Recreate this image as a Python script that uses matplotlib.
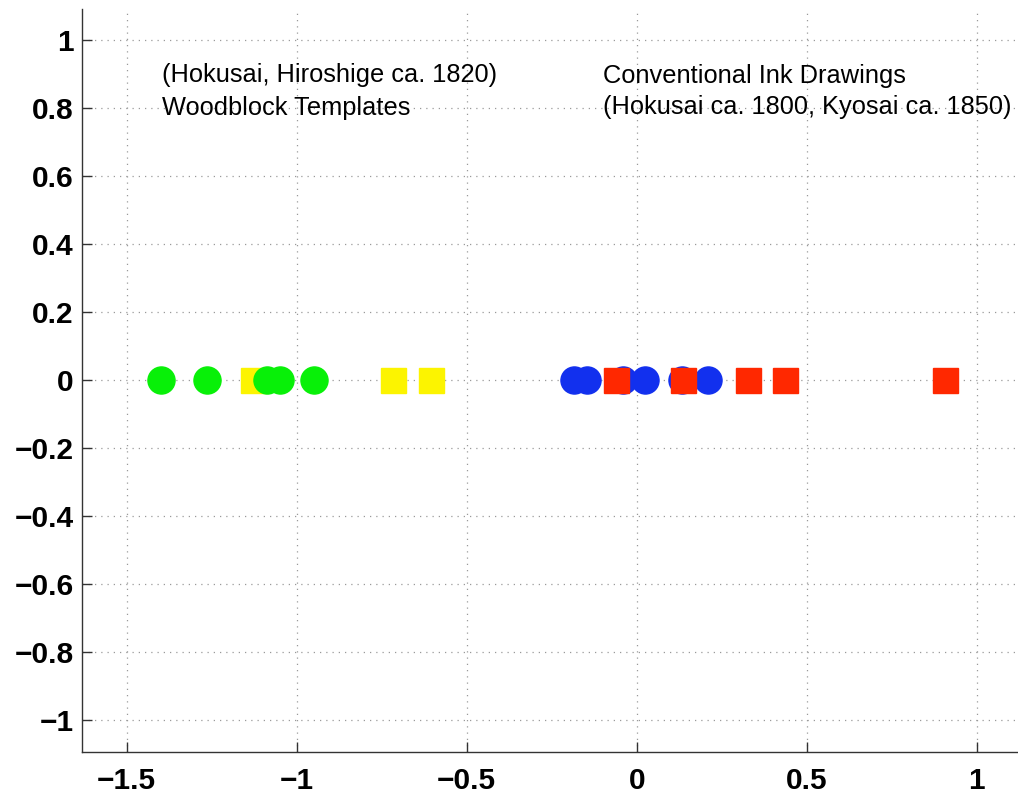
import numpy as np
import matplotlib
matplotlib.use("Agg")
from matplotlib import pyplot as plt

plt.rcParams["font.family"] = ["Liberation Sans", "DejaVu Sans"]

# Woodblock templates (Hokusai, Hiroshige ca. 1820)
woodblock_sq_x = [-1.128, -0.718, -0.605]
woodblock_ci_x = [-1.400, -1.265, -1.088, -1.049, -0.948]
# Conventional ink drawings (Hokusai ca. 1800, Kyosai ca. 1850)
ink_ci_x = [-0.184, -0.145, -0.040, 0.024, 0.132, 0.210]
ink_sq_x = [-0.061, 0.137, 0.326, 0.436, 0.907]

x_ticks = [-1.5, -1.0, -0.5, 0.0, 0.5, 1.0]
x_tick_labels = ["\u22121.5", "\u22121", "\u22120.5", "0", "0.5", "1"]
y_ticks = [-1.0, -0.8, -0.6, -0.4, -0.2, 0.0, 0.2, 0.4, 0.6, 0.8, 1.0]
y_tick_labels = ["\u22121", "\u22120.8", "\u22120.6", "\u22120.4", "\u22120.2",
                 "0", "0.2", "0.4", "0.6", "0.8", "1"]

fig = plt.figure(figsize=(10.18, 7.96), dpi=100)
ax = fig.add_axes([82.3 / 1018, (796 - 752.3) / 796, 935.7 / 1018, 742.9 / 796])

groups = [
    (woodblock_sq_x, "s", "#fcf400", 18),
    (woodblock_ci_x, "o", "#08f008", 19.5),
    (ink_ci_x, "o", "#1230ee", 19.5),
    (ink_sq_x, "s", "#ff2800", 18),
]
for xs, marker, color, size in groups:
    ax.plot(xs, np.zeros(len(xs)), linestyle="none", marker=marker,
            markersize=size, markerfacecolor=color, markeredgecolor=color)

ax.set_xlim(-1.6306, 1.1215)
ax.set_ylim(-1.095, 1.09)
ax.set_xticks(x_ticks)
ax.set_xticklabels(x_tick_labels)
ax.set_yticks(y_ticks)
ax.set_yticklabels(y_tick_labels)

ax.grid(True, color="#9a9a9a", linestyle=(0, (1, 4)), linewidth=0.9)
ax.set_axisbelow(True)
for side in ("top", "right"):
    ax.spines[side].set_visible(False)
for side in ("left", "bottom"):
    ax.spines[side].set_color("#333333")
    ax.spines[side].set_linewidth(1.0)
ax.tick_params(direction="in", length=7, width=1, color="#333333", labelsize=21.5)
ax.tick_params(axis="x", pad=10.5)
ax.tick_params(axis="y", pad=6)
for lab in ax.get_xticklabels() + ax.get_yticklabels():
    lab.set_fontweight("bold")

ax.text(-1.396, 0.897, "(Hokusai, Hiroshige ca. 1820)", fontsize=18.3, va="center", ha="left")
ax.text(-1.396, 0.800, "Woodblock Templates", fontsize=18.3, va="center", ha="left")
ax.text(-0.099, 0.894, "Conventional Ink Drawings", fontsize=18.3, va="center", ha="left")
ax.text(-0.099, 0.803, "(Hokusai ca. 1800, Kyosai ca. 1850)", fontsize=18.3, va="center", ha="left")

fig.savefig("out.png", dpi=100)
